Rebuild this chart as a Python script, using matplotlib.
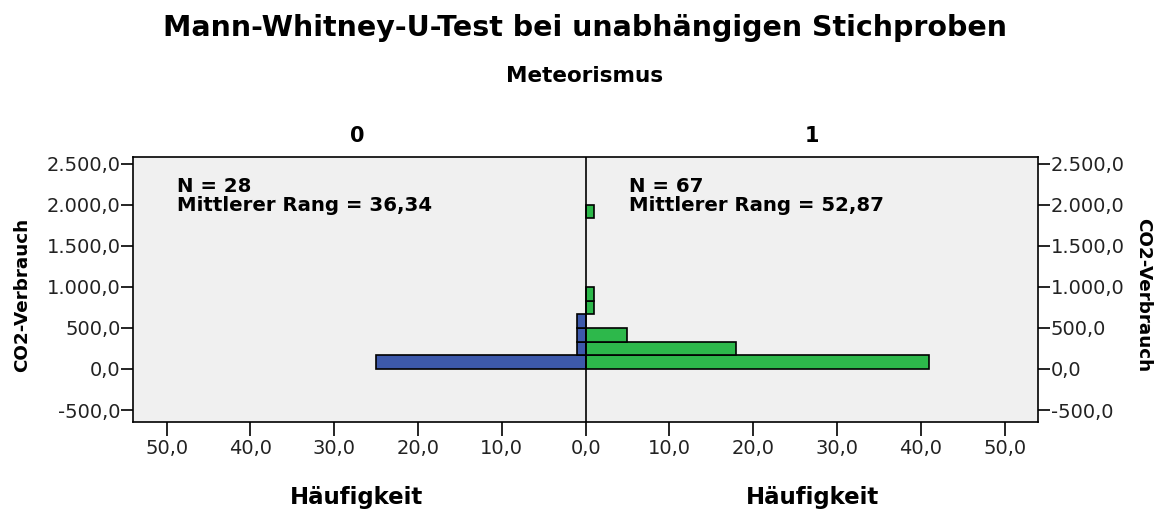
import matplotlib
matplotlib.use("Agg")
import matplotlib.pyplot as plt
import numpy as np

# Histogram data: CO2-Verbrauch binned, frequencies per Meteorismus group
bin_width = 167.0
counts_group0 = [25, 1, 1, 1, 0, 0, 0, 0, 0, 0, 0, 0]
counts_group1 = [41, 18, 5, 0, 1, 1, 0, 0, 0, 0, 0, 1]
group_labels = ["0", "1"]
group_n = [28, 67]
group_mean_rank = ["36,34", "52,87"]
y_ticks = [-500, 0, 500, 1000, 1500, 2000, 2500]
x_ticks = [-50, -40, -30, -20, -10, 0, 10, 20, 30, 40, 50]

blue = "#3D59AB"
green = "#2DB84B"
bg = "#F0F0F0"

fig = plt.figure(figsize=(11.6, 5.11), dpi=100)
ax = fig.add_axes([0.1147, 0.1742, 0.7802, 0.5186])
ax.set_facecolor(bg)

bottoms = np.arange(len(counts_group0)) * bin_width
c0 = np.array(counts_group0)
c1 = np.array(counts_group1)
m0 = c0 > 0
m1 = c1 > 0
ax.barh(bottoms[m0], -c0[m0], height=bin_width, left=0, align="edge",
        color=blue, edgecolor="black", linewidth=1.2, zorder=3)
ax.barh(bottoms[m1], c1[m1], height=bin_width, left=0, align="edge",
        color=green, edgecolor="black", linewidth=1.2, zorder=3)

ax.axvline(0, color="black", linewidth=1.2, zorder=4)

ax.set_xlim(-54, 54)
ax.set_ylim(-646, 2585)

ax.set_xticks(x_ticks)
ax.set_xticklabels([f"{abs(v):.1f}".replace(".", ",") for v in x_ticks])
ax.set_yticks(y_ticks)


def fmt_de(v):
    s = f"{v:,.1f}"
    return s.replace(",", "X").replace(".", ",").replace("X", ".")


ax.set_yticklabels([fmt_de(v) for v in y_ticks])
ax.tick_params(axis="y", which="both", left=True, right=True,
               labelleft=True, labelright=True, direction="out",
               length=8.5, width=1.2, labelsize=14, colors="black", pad=0.5,
               labelcolor="#222222")
ax.tick_params(axis="x", direction="out", length=10, width=1.2,
               labelsize=14, pad=2, labelcolor="#222222")
for sp in ax.spines.values():
    sp.set_linewidth(1.2)

# Titles
fig.text(0.504, 1 - 28 / 511, "Mann-Whitney-U-Test bei unabhängigen Stichproben",
         ha="center", va="center", fontsize=20.5, fontweight="bold")
fig.text(0.504, 1 - 76 / 511, "Meteorismus", ha="center", va="center",
         fontsize=15.5, fontweight="bold")

# Group headers and axis labels
for xc, lab in zip([357, 812], group_labels):
    fig.text(xc / 1160, 1 - 136 / 511, lab, ha="center", va="center",
             fontsize=15, fontweight="bold")
    fig.text(xc / 1160, 1 - 497 / 511, "Häufigkeit", ha="center",
             va="center", fontsize=16.5, fontweight="bold")

fig.text(22 / 1160, 1 - 295 / 511, "CO2-Verbrauch", rotation=90,
         ha="center", va="center", fontsize=13.2, fontweight="bold")
fig.text(1143 / 1160, 1 - 295 / 511, "CO2-Verbrauch", rotation=270,
         ha="center", va="center", fontsize=13.2, fontweight="bold")

# Group statistics
for xs, n, r in zip([-48.8, 5.2], group_n, group_mean_rank):
    ax.text(xs, 2110, f"N = {n}\nMittlerer Rang = {r}", ha="left",
            va="center", fontsize=14.2, fontweight="bold", linespacing=0.98,
            zorder=5)

fig.savefig("out.png", dpi=100)
